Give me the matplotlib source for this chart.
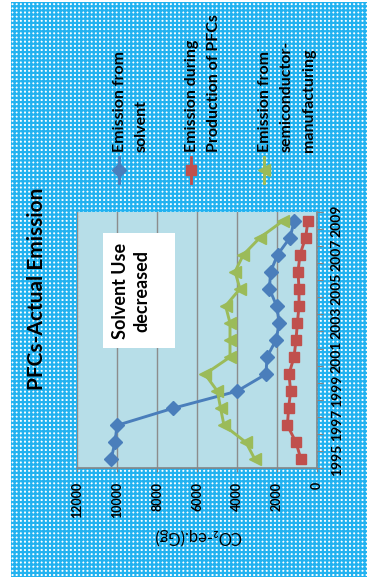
import matplotlib
matplotlib.use('Agg')
import matplotlib.pyplot as plt
from matplotlib.patches import Rectangle
from matplotlib.lines import Line2D

plt.rcParams['font.family'] = ['Lato', 'DejaVu Sans']
plt.rcParams['font.weight'] = 'bold'
plt.rcParams['hatch.linewidth'] = 1.6

# data (Gg CO2-eq)
years = list(range(1995, 2010))
solvent = [10300, 10100, 10000, 7200, 4000, 2550, 2500, 2050, 1880, 2020,
           2380, 2320, 1970, 1350, 1130]
production = [800, 1050, 1480, 1420, 1320, 1400, 1150, 1050, 980, 900,
              900, 950, 850, 570, 450]
semicon = [3100, 3550, 4650, 4820, 4980, 5600, 4350, 4350, 4350, 4570,
           3850, 4100, 3680, 2850, 1680]
value_ticks = [0, 2000, 4000, 6000, 8000, 10000, 12000]

series = [
    (solvent, '#4a7ebb', 'D', 7, ['Emission from', 'solvent']),
    (production, '#c0504d', 's', 7.5, ['Emission during', 'Production of PFCs']),
    (semicon, '#9bbb59', '<', 8, ['Emission from', 'semiconductor-', 'manufacturing']),
]

fig = plt.figure(figsize=(3.67, 5.8), dpi=100)

# patterned background
bg = Rectangle((11 / 367, 3 / 580), 1, 575 / 580, transform=fig.transFigure,
               facecolor='white', edgecolor='#22b2f0', hatch='++++', lw=0, zorder=-1)
fig.add_artist(bg)

ax = fig.add_axes([77 / 367, 112 / 580, 240 / 367, 256 / 580])
ax.set_facecolor('#b7dee8')

idx = list(range(len(years)))
for vals, col, mk, ms, _ in series:
    ax.plot(vals, idx, color=col, lw=2.1, marker=mk, markersize=ms, zorder=3)

ax.set_xlim(12000, 0)
ax.set_ylim(-0.5, len(years) - 0.5)

ax.set_xticks(value_ticks)
ax.set_xticklabels([str(v) for v in value_ticks], rotation=90, fontsize=9)
ax.tick_params(axis='x', length=3, color='#868686', pad=7)
ax.grid(axis='x', color='#8c8c8c', lw=1.0)
ax.set_axisbelow(True)

ax.yaxis.tick_right()
ax.set_yticks([i - 0.5 for i in range(len(years) + 1)])
ax.set_yticklabels([])
ax.set_yticks(idx[::2], minor=True)
ax.set_yticklabels([str(y) for y in years[::2]], minor=True, rotation=90,
                   va='center', fontsize=10)
ax.tick_params(axis='y', which='major', length=4, color='#868686')
ax.tick_params(axis='y', which='minor', length=0, pad=10)

for s in ['top', 'left']:
    ax.spines[s].set_visible(False)
for s in ['bottom', 'right']:
    ax.spines[s].set_color('#868686')
    ax.spines[s].set_linewidth(1.2)

ax.set_xlabel('CO\u2082-eq.(Gg)', rotation=180, fontsize=12, labelpad=7)

# annotation box
ax.add_patch(Rectangle((0.108, 0.469), 0.30, 0.449, transform=ax.transAxes,
                       facecolor='white', edgecolor='none', zorder=4))
ax.text((120 - 77) / 240, 0.69, 'Solvent Use', transform=ax.transAxes, rotation=90,
        ha='center', va='center', fontsize=13, zorder=5)
ax.text((142 - 77) / 240, 0.69, 'decreased', transform=ax.transAxes, rotation=90,
        ha='center', va='center', fontsize=13, zorder=5)

# title
fig.text(37 / 367, (580 - 289) / 580, 'PFCs-Actual Emission', rotation=90,
         ha='center', va='center', fontsize=15)

# legend drawn sideways
leg_x = [119, 191, 264]
for (vals, col, mk, ms, lines), lx in zip(series, leg_x):
    fig.add_artist(Line2D([lx / 367, lx / 367], [(580 - 183) / 580, (580 - 157) / 580],
                          transform=fig.transFigure, color=col, lw=2.1))
    fig.add_artist(Line2D([lx / 367], [(580 - 170) / 580], transform=fig.transFigure,
                          color=col, marker=mk, markersize=ms, lw=0))
    for k, txt in enumerate(lines):
        fig.text((lx + 1 + 22 * k) / 367, (580 - 152) / 580, txt, rotation=90,
                 ha='center', va='bottom', fontsize=11.5)

fig.savefig('out.png', dpi=100)
